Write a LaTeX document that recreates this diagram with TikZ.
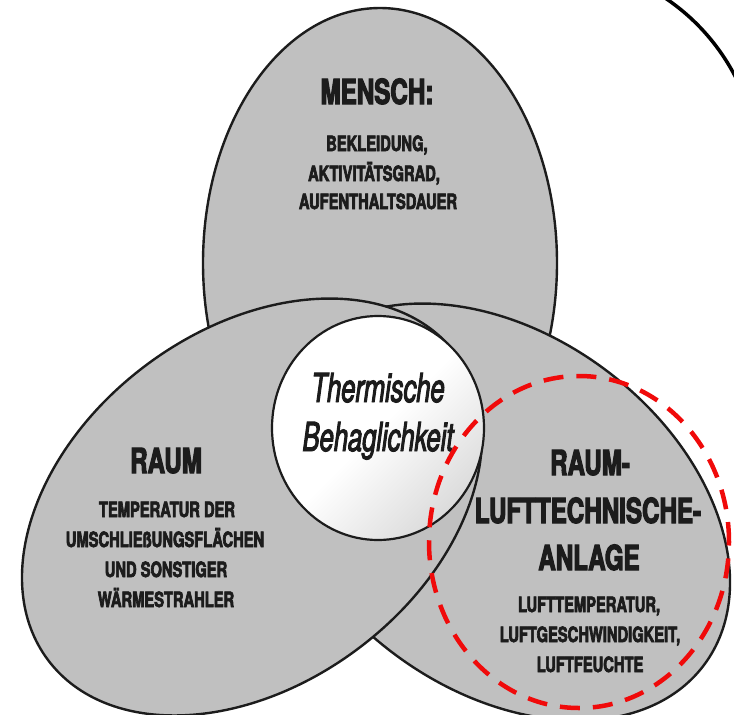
\documentclass[tikz,border=0pt]{standalone}
\usepackage{fontspec}
\usetikzlibrary{shapes.geometric}
\newfontfamily\capsfont[FakeStretch=0.7, BoldFeatures={FakeBold=3.2}]{TeX Gyre Heros}
\newfontfamily\thermfont[FakeStretch=0.64, ItalicFeatures={FakeBold=2.4}]{TeX Gyre Heros}
\definecolor{venngray}{RGB}{192,192,192}
\definecolor{ink}{RGB}{28,28,28}
\definecolor{dashred}{RGB}{240,10,10}
\begin{document}
\begin{tikzpicture}[x=1pt,y=-1pt,
  venn/.style={ellipse, draw=ink, line width=2.4pt, fill=venngray, inner sep=0pt,
    minimum width=510pt, minimum height=354pt},
  titletext/.style={anchor=base, inner sep=0pt, text=ink,
    font=\capsfont\bfseries\fontsize{34.5}{36}\selectfont},
  bodytext/.style={anchor=base, inner sep=0pt, text=ink,
    font=\capsfont\bfseries\fontsize{21}{24}\selectfont},
  thermtext/.style={anchor=base, inner sep=0pt, text=ink,
    font=\thermfont\itshape\fontsize{40}{44}\selectfont},
]
\useasboundingbox (0,0) rectangle (734,715);
\clip (0,0) rectangle (734,715);
\fill[white] (0,0) rectangle (734,715);

% three overlapping ellipses
\node[venn, rotate=90] (mensch) at (380,263) {};
\node[venn, rotate=-36.87] (anlage) at (500,512) {};
\node[venn, rotate=36.87] (raum) at (252,507) {};

% central circle
\node[ellipse, draw=ink, line width=2.2pt, inner sep=0pt,
  minimum width=212pt, minimum height=224pt,
  top color=white, bottom color=black!14, middle color=white, shading angle=45] (beh) at (378,428) {};

% texts
\node[titletext] (tmensch) at (377,104) {MENSCH:};
\node[bodytext] (m1) at (377,151) {BEKLEIDUNG,};
\node[bodytext] (m2) at (374,181) {AKTIVITÄTSGRAD,};
\node[bodytext] (m3) at (378,209) {AUFENTHALTSDAUER};

\node[thermtext] (th1) at (378,402) {Thermische};
\node[thermtext] (th2) at (378,451) {Behaglichkeit};

\node[titletext] (traum) at (166,473) {RAUM};
\node[bodytext] (r1) at (167,517) {TEMPERATUR DER};
\node[bodytext] (r2) at (165,547) {UMSCHLIEßUNGSFLÄCHEN};
\node[bodytext] (r3) at (166,577) {UND SONSTIGER};
\node[bodytext] (r4) at (166,607) {WÄRMESTRAHLER};

\node[titletext] (ta1) at (590,475) {RAUM-};
\node[titletext] (ta2) at (588,523) {LUFTTECHNISCHE-};
\node[titletext] (ta3) at (589,570) {ANLAGE};
\node[bodytext] (a1) at (589,612) {LUFTTEMPERATUR,};
\node[bodytext] (a2) at (590,642) {LUFTGESCHWINDIGKEIT,};
\node[bodytext] (a3) at (590,672) {LUFTFEUCHTE};

% red dashed focus ellipse
\node[ellipse, draw=dashred, line width=4.5pt, dash pattern=on 20pt off 13pt,
  inner sep=0pt, minimum width=300pt, minimum height=332pt] (focus) at (579,542) {};

% black arc in the top right corner
\coordinate (arcc) at (547,174);
\draw[line width=3.5pt, black] (arcc) ++(-62:212) arc[start angle=-62, end angle=-20, radius=212];
\end{tikzpicture}
\end{document}
